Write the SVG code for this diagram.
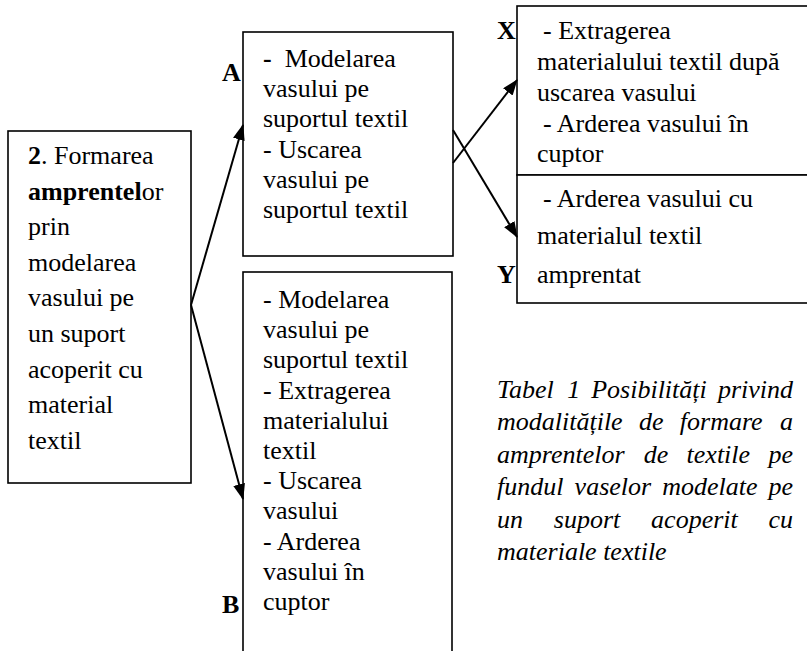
<svg xmlns="http://www.w3.org/2000/svg" width="807" height="651" viewBox="0 0 807 651">
<style>
.box{fill:#fff;stroke:#000;stroke-width:1.6}
.t{font-family:'Liberation Serif','DejaVu Serif',serif;font-size:26px;fill:#000}
.b{font-weight:bold}
.i{font-style:italic}
.pre{white-space:pre}
.conn{stroke:#000;stroke-width:2;fill:none;marker-end:url(#ah)}
</style>
<defs>
<marker id="ah" markerUnits="userSpaceOnUse" markerWidth="16" markerHeight="12" refX="15" refY="6" orient="auto">
<path d="M0,0 L16,6 L0,12 z" fill="#000"/>
</marker>
</defs>
<rect width="807" height="651" fill="#fff"/>

<g id="node-main" font-family="Liberation Serif, serif">
<rect class="box" x="8" y="131" width="183" height="352"/>
<text class="t" x="28" y="164"><tspan class="b">2</tspan>. Formarea</text>
<text class="t" x="28" y="199.6"><tspan class="b">amprentel</tspan>or</text>
<text class="t" x="28" y="235.2">prin</text>
<text class="t" x="28" y="270.8">modelarea</text>
<text class="t" x="28" y="306.4">vasului pe</text>
<text class="t" x="28" y="342">un suport</text>
<text class="t" x="28" y="377.6">acoperit cu</text>
<text class="t" x="28" y="413.2">material</text>
<text class="t" x="28" y="448.8">textil</text>
</g>

<g id="node-A">
<rect class="box" x="243" y="32" width="210" height="224"/>
<text class="t pre" x="263" y="67"><tspan class="b">-</tspan>  Modelarea</text>
<text class="t" x="263" y="97.2">vasului pe</text>
<text class="t" x="263" y="127.4">suportul textil</text>
<text class="t" x="263" y="157.6">- Uscarea</text>
<text class="t" x="263" y="187.8">vasului pe</text>
<text class="t" x="263" y="218">suportul textil</text>
<text class="t b" x="222" y="81">A</text>
</g>

<g id="node-B">
<rect class="box" x="243" y="272" width="209" height="400"/>
<text class="t" x="263" y="308">- Modelarea</text>
<text class="t" x="263" y="338.2">vasului pe</text>
<text class="t" x="263" y="368.4">suportul textil</text>
<text class="t" x="263" y="398.6">- Extragerea</text>
<text class="t" x="263" y="428.8">materialului</text>
<text class="t" x="263" y="459">textil</text>
<text class="t" x="263" y="489.2">- Uscarea</text>
<text class="t" x="263" y="519.4">vasului</text>
<text class="t" x="263" y="549.6">- Arderea</text>
<text class="t" x="263" y="579.8">vasului în</text>
<text class="t" x="263" y="610">cuptor</text>
<text class="t b" x="222" y="613">B</text>
</g>

<g id="node-X">
<rect class="box" x="517" y="6" width="295" height="169"/>
<text class="t" x="543" y="39">- Extragerea</text>
<text class="t" x="537" y="70">materialului textil după</text>
<text class="t" x="537" y="101">uscarea vasului</text>
<text class="t" x="543" y="132">- Arderea vasului în</text>
<text class="t" x="537" y="162">cuptor</text>
<text class="t b" x="497" y="39">X</text>
</g>

<g id="node-Y">
<rect class="box" x="517" y="175" width="295" height="128"/>
<text class="t" x="543" y="207">- Arderea vasului cu</text>
<text class="t" x="537" y="244">materialul textil</text>
<text class="t" x="537" y="283">amprentat</text>
<text class="t b" x="497" y="283">Y</text>
</g>

<g id="connectors">
<line class="conn" x1="191" y1="305" x2="243" y2="125"/>
<line class="conn" x1="191" y1="305" x2="243" y2="499"/>
<line class="conn" x1="453" y1="163" x2="517" y2="80"/>
<line class="conn" x1="453" y1="130" x2="517" y2="237"/>
</g>

<g id="caption">
<text class="t i" y="398"><tspan x="497">Tabel</tspan><tspan x="567.2">1</tspan><tspan x="591.2">Posibilități</tspan><tspan x="793" text-anchor="end">privind</tspan></text>
<text class="t i" y="430.4"><tspan x="497">modalitățile</tspan><tspan x="639">de</tspan><tspan x="679.8">formare</tspan><tspan x="793" text-anchor="end">a</tspan></text>
<text class="t i" y="462.8"><tspan x="497">amprentelor</tspan><tspan x="643.8">de</tspan><tspan x="686.6">textile</tspan><tspan x="793" text-anchor="end">pe</tspan></text>
<text class="t i" y="495.2"><tspan x="497">fundul</tspan><tspan x="574.6">vaselor</tspan><tspan x="662.2">modelate</tspan><tspan x="793" text-anchor="end">pe</tspan></text>
<text class="t i" y="527.6"><tspan x="497">un</tspan><tspan x="553.8">suport</tspan><tspan x="651.1">acoperit</tspan><tspan x="793" text-anchor="end">cu</tspan></text>
<text class="t i" y="560" x="497">materiale textile</text>
</g>
</svg>
